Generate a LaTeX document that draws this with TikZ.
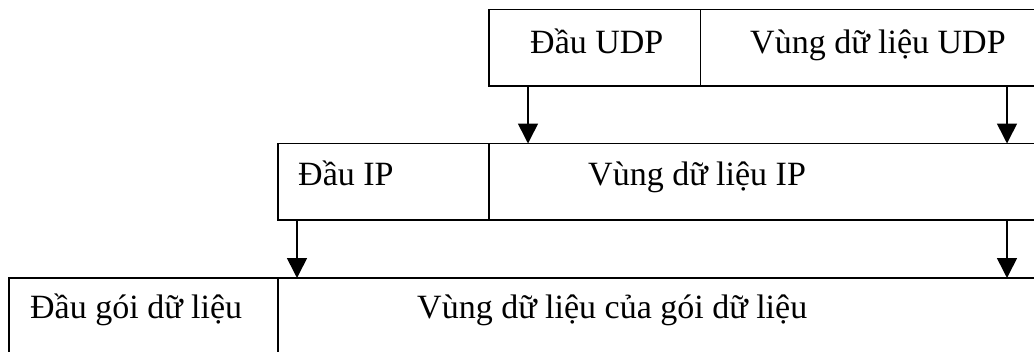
\documentclass[tikz,border=0pt]{standalone}
\usepackage{fontspec}
\setmainfont{Liberation Serif}
\usetikzlibrary{arrows.meta}
\begin{document}
\begin{tikzpicture}[x=1pt,y=-1pt,
  frame/.style={line width=1.8pt, line join=miter},
  label/.style={anchor=base west, inner sep=0pt, font=\fontsize{34}{40}\selectfont},
  down/.style={line width=1.6pt, -{Triangle[width=20pt,length=20pt]}}]
\useasboundingbox (0,0) rectangle (1034,351);
\clip (0,0) rectangle (1034,351);

% packet layers: corners and field dividers
\coordinate (udpNW) at (489,9.5);   \coordinate (udpSE) at (1045,86);
\coordinate (ipNW)  at (278,143.5); \coordinate (ipSE)  at (1045,220);
\coordinate (frNW)  at (9,278);     \coordinate (frSE)  at (1045,365);

% UDP segment
\draw[frame] (udpNW) rectangle (udpSE);
\draw[frame] (700.5,9.5) -- (700.5,86);
\node[label] (udphead) at (530,53) {Đầu UDP};
\node[label] (udpdata) at (750,53) {Vùng dữ liệu UDP};

% IP packet
\draw[frame] (ipNW) rectangle (ipSE);
\draw[frame] (489,143.5) -- (489,220);
\node[label] (iphead) at (298,185) {Đầu IP};
\node[label] (ipdata) at (588,185) {Vùng dữ liệu IP};

% data-link frame
\draw[frame] (frNW) rectangle (frSE);
\draw[frame] (278,278) -- (278,365);
\node[label] (frhead) at (30,318.5) {Đầu gói dữ liệu};
\node[label] (frdata) at (417,318.5) {Vùng dữ liệu của gói dữ liệu};

% encapsulation arrows
\coordinate (a1s) at (528,86);   \coordinate (a1e) at (528,143.5);
\coordinate (a2s) at (1007,86);  \coordinate (a2e) at (1007,143.5);
\coordinate (b1s) at (297,220);  \coordinate (b1e) at (297,278);
\coordinate (b2s) at (1007,220); \coordinate (b2e) at (1007,278);
\draw[down] (a1s) -- (a1e);
\draw[down] (a2s) -- (a2e);
\draw[down] (b1s) -- (b1e);
\draw[down] (b2s) -- (b2e);
\end{tikzpicture}
\end{document}
